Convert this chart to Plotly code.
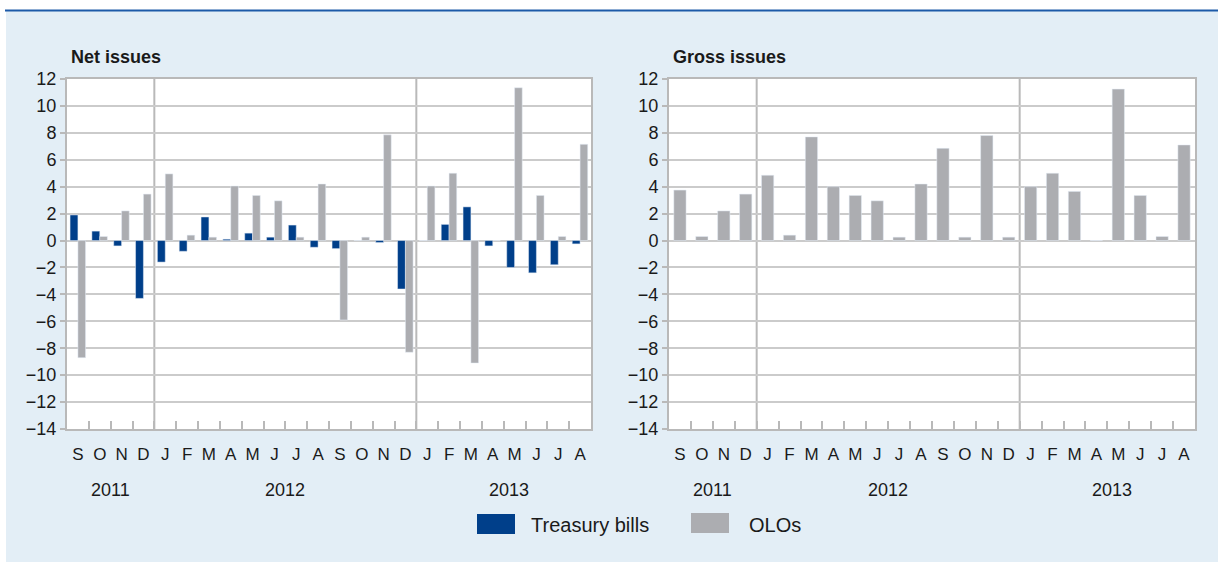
import plotly.graph_objects as go

# ---- data ----
periods = ["Sep 2011", "Oct 2011", "Nov 2011", "Dec 2011",
           "Jan 2012", "Feb 2012", "Mar 2012", "Apr 2012", "May 2012", "Jun 2012",
           "Jul 2012", "Aug 2012", "Sep 2012", "Oct 2012", "Nov 2012", "Dec 2012",
           "Jan 2013", "Feb 2013", "Mar 2013", "Apr 2013", "May 2013", "Jun 2013",
           "Jul 2013", "Aug 2013"]
month_labels = ["S", "O", "N", "D", "J", "F", "M", "A", "M", "J", "J", "A",
                "S", "O", "N", "D", "J", "F", "M", "A", "M", "J", "J", "A"]
year_labels = ["2011", "2012", "2013"]

tb_net = [1.9, 0.7, -0.4, -4.3, -1.6, -0.8, 1.75, 0.1, 0.55, 0.25, 1.15, -0.5,
          -0.6, 0.0, -0.15, -3.6, 0.0, 1.2, 2.5, -0.4, -2.0, -2.4, -1.8, -0.25]
olo_net = [-8.7, 0.3, 2.2, 3.45, 4.95, 0.4, 0.25, 4.05, 3.35, 2.95, 0.25, 4.2,
           -5.9, 0.25, 7.85, -8.3, 4.05, 5.0, -9.1, 0.0, 11.35, 3.35, 0.3, 7.15]
olo_gross = [3.75, 0.3, 2.2, 3.45, 4.85, 0.4, 7.7, 4.0, 3.35, 2.95, 0.25, 4.2,
             6.85, 0.25, 7.8, 0.25, 4.0, 5.0, 3.65, 0.0, 11.25, 3.35, 0.3, 7.1]

y_min, y_max, y_step = -14, 12, 2

# ---- styling ----
W, H = 1218, 562
FONT = "Liberation Sans, Arial, sans-serif"
TXT = "#1a1a1a"
BLUE = "#003f8a"
GREY = "#acadb1"
BG = "#e3eef6"
GRID = "#cbcbcb"
FRAME = "#b9b9b9"

def px(x):
    return x / W

def py(y):
    return 1 - y / H

left_dom = [px(67), px(591)]
right_dom = [px(669), px(1195)]
ydom = [py(429), py(79)]

fig = go.Figure()
fig.add_trace(go.Bar(x=periods, y=tb_net, name="Treasury bills", marker_color=BLUE,
                     width=0.36, offset=-0.36, xaxis="x", yaxis="y", showlegend=False))
fig.add_trace(go.Bar(x=periods, y=olo_net, name="OLOs", marker_color=GREY,
                     width=0.35, offset=0.0, xaxis="x", yaxis="y", showlegend=False))
fig.add_trace(go.Bar(x=periods, y=olo_gross, name="OLOs", marker_color=GREY,
                     width=0.56, offset=-0.28, xaxis="x2", yaxis="y2", showlegend=False))

xcommon = dict(type="category", categoryorder="array", categoryarray=periods,
               tickmode="array", tickvals=periods, ticktext=month_labels, tickangle=0,
               ticks="inside", tickson="boundaries", ticklen=8, tickwidth=1.5,
               tickcolor=FRAME, showline=True, linecolor=FRAME, linewidth=2,
               mirror=True, showgrid=False, zeroline=False, automargin=False,
               tickfont=dict(family=FONT, size=17, color=TXT),
               ticklabelstandoff=9, range=[-0.5, len(periods) - 0.5], fixedrange=True)
ycommon = dict(range=[y_min, y_max], tick0=0, dtick=y_step, showgrid=True,
               gridcolor=GRID, gridwidth=1.5, zeroline=False, showline=True,
               linecolor=FRAME, linewidth=2, mirror=True, ticks="outside",
               ticklen=5, tickwidth=1.5, tickcolor=FRAME, automargin=False,
               tickfont=dict(family=FONT, size=18, color=TXT), fixedrange=True)

fig.update_layout(
    width=W, height=H, margin=dict(l=0, r=0, t=0, b=0, pad=0), autosize=False,
    paper_bgcolor=BG, plot_bgcolor="white", barmode="overlay",
    showlegend=False, font=dict(family=FONT, color=TXT),
    xaxis=dict(domain=left_dom, anchor="y", **xcommon),
    yaxis=dict(domain=ydom, anchor="x", **ycommon),
    xaxis2=dict(domain=right_dom, anchor="y2", **xcommon),
    yaxis2=dict(domain=ydom, anchor="x2", **ycommon),
)

shapes = []
# white top strip, left strip and blue rule
shapes.append(dict(type="rect", xref="paper", yref="paper", x0=0, x1=1, y0=py(10), y1=1,
                   fillcolor="white", line_width=0, layer="below"))
shapes.append(dict(type="rect", xref="paper", yref="paper", x0=0, x1=px(6), y0=0, y1=1,
                   fillcolor="white", line_width=0, layer="below"))
shapes.append(dict(type="line", xref="paper", yref="paper", x0=px(5), x1=1, y0=py(10.5), y1=py(10.5),
                   line=dict(color="#1d5aa8", width=2)))

# year separators
years_of = [p.split()[1] for p in periods]
for xr in ["x", "x2"]:
    for i in range(1, len(periods)):
        if years_of[i] != years_of[i - 1]:
            shapes.append(dict(type="line", xref=xr, yref=f"{'y' if xr == 'x' else 'y2'} domain",
                               x0=i - 0.5, x1=i - 0.5, y0=0, y1=1,
                               line=dict(color=FRAME, width=2), layer="below"))

# legend boxes
shapes.append(dict(type="rect", xref="paper", yref="paper", x0=px(477), x1=px(515),
                   y0=py(534), y1=py(514), fillcolor=BLUE, line_width=0))
shapes.append(dict(type="rect", xref="paper", yref="paper", x0=px(691), x1=px(729),
                   y0=py(533), y1=py(513), fillcolor=GREY, line_width=0))

annotations = []
annotations.append(dict(text="<b>Net issues</b>", xref="paper", yref="paper", x=px(69), y=py(57),
                        xanchor="left", yanchor="middle", showarrow=False,
                        font=dict(family=FONT, size=18, color=TXT)))
annotations.append(dict(text="<b>Gross issues</b>", xref="paper", yref="paper", x=px(671), y=py(57),
                        xanchor="left", yanchor="middle", showarrow=False,
                        font=dict(family=FONT, size=18, color=TXT)))

n = len(periods)
for dom in [left_dom, right_dom]:
    for k, yl in enumerate(year_labels):
        idx = [i for i, y in enumerate(years_of) if y == yl]
        c = (sum(idx) / len(idx) + 0.5) / n
        annotations.append(dict(text=yl, xref="paper", yref="paper",
                                x=dom[0] + c * (dom[1] - dom[0]), y=py(490),
                                xshift=5 if k == len(year_labels) - 1 else 0,
                                xanchor="center", yanchor="middle", showarrow=False,
                                font=dict(family=FONT, size=18, color=TXT)))

annotations.append(dict(text="Treasury bills", xref="paper", yref="paper", x=px(529), y=py(525),
                        xanchor="left", yanchor="middle", showarrow=False,
                        font=dict(family=FONT, size=20, color=TXT)))
annotations.append(dict(text="OLOs", xref="paper", yref="paper", x=px(747), y=py(525),
                        xanchor="left", yanchor="middle", showarrow=False,
                        font=dict(family=FONT, size=20, color=TXT)))

fig.update_layout(shapes=shapes, annotations=annotations)
fig.write_html("out.html", config={"displayModeBar": False},
               post_script="document.body.style.margin='0';document.body.style.overflow='hidden';")
